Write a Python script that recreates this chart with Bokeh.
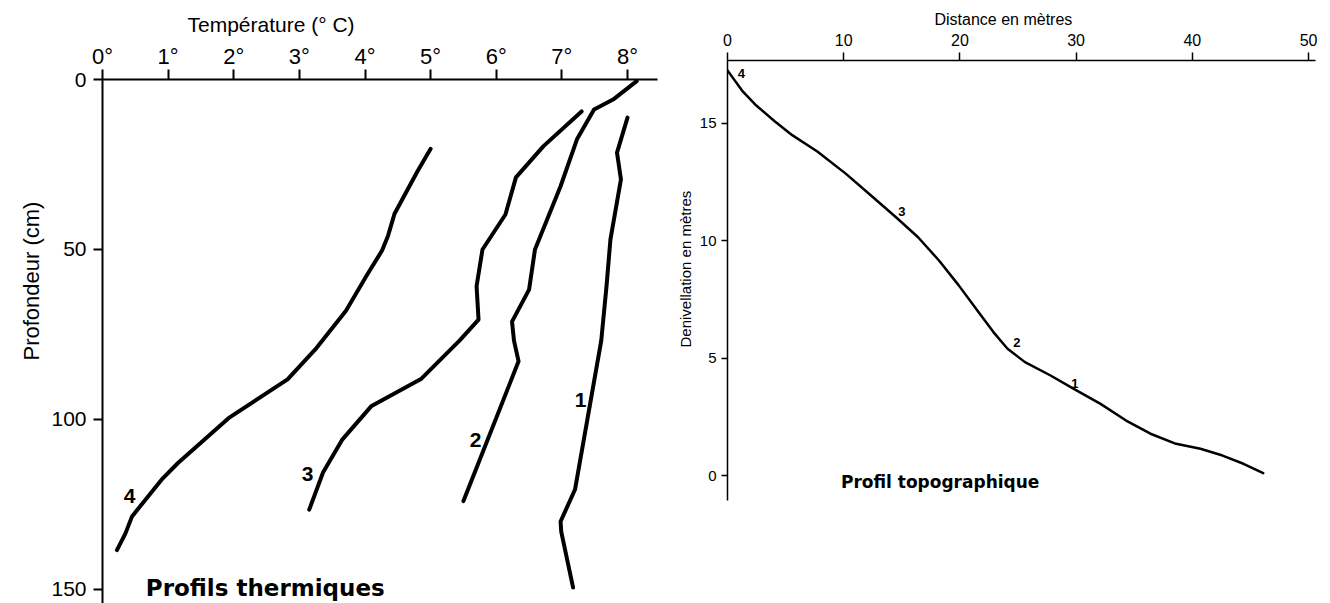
import numpy as np
from bokeh.plotting import figure
from bokeh.models import Range1d, FixedTicker, Label, Title
from bokeh.layouts import row, column
from bokeh.embed import file_html
from bokeh.resources import INLINE
from bokeh.core.properties import value

# ---------------- data: thermal profiles ----------------
temp_ticks = [0, 1, 2, 3, 4, 5, 6, 7, 8]
temp_tick_labels = ["0°", "1°", "2°", "3°", "4°", "5°", "6°", "7°", "8°"]
depth_ticks = [0, 50, 100, 150]

profile_names = ["1", "2", "3", "4"]

p1_temp = [8.0, 7.84, 7.9, 7.74, 7.68, 7.6, 7.2, 6.98, 6.99, 7.17]
p1_depth = [11.2, 21.5, 29.4, 47.0, 60.8, 76.8, 120.6, 130.0, 133.0, 149.4]

p2_temp = [8.14, 7.78, 7.49, 7.23, 6.98, 6.59, 6.5, 6.24, 6.27, 6.34, 5.5]
p2_depth = [0.5, 5.9, 8.8, 17.6, 31.4, 50.0, 61.8, 71.2, 76.8, 82.9, 124.0]

p3_temp = [7.3, 6.72, 6.3, 6.14, 5.79, 5.7, 5.73, 5.44, 4.86, 4.1, 3.65, 3.36, 3.15]
p3_depth = [9.4, 19.6, 28.8, 39.7, 50.0, 60.8, 70.6, 76.8, 88.0, 96.0, 106.0, 115.6, 126.5]

p4_temp = [5.0, 4.8, 4.45, 4.35, 4.26, 4.03, 3.71, 3.26, 2.82, 1.92, 1.15, 0.9, 0.45, 0.35, 0.22]
p4_depth = [20.4, 27.0, 39.5, 46.0, 50.3, 57.5, 68.0, 79.0, 88.2, 99.6, 112.8, 117.7, 128.5, 133.5, 138.4]

# depth at which each profile number is written
profile_label_depth = [94.4, 106.0, 115.9, 122.4]

# ---------------- data: topographic profile ----------------
dist_ticks = [0, 10, 20, 30, 40, 50]
height_ticks = [0, 5, 10, 15]

topo_dist = [0.0, 1.25, 2.48, 4.03, 5.57, 7.73, 10.2, 12.35, 14.5, 16.4, 18.2, 19.9,
             21.5, 22.9, 24.1, 25.6, 27.8, 29.8, 32.1, 34.3, 36.4, 38.6, 40.7, 42.6, 44.4, 46.1]
topo_height = [17.26, 16.4, 15.76, 15.1, 14.5, 13.8, 12.85, 11.93, 11.0, 10.15, 9.16, 8.1,
               7.03, 6.1, 5.4, 4.83, 4.26, 3.69, 3.05, 2.34, 1.78, 1.35, 1.14, 0.85, 0.5, 0.1]

station_names = ["4", "3", "2", "1"]
station_dist = [1.19, 15.0, 24.9, 29.9]

FONT = "Liberation Sans"
BOLD_FONT = "DejaVu Sans"

# ---------------- left: thermal profiles ----------------
p1 = figure(width=662, height=603,
            x_range=Range1d(0, 8.457), y_range=Range1d(154.12, 0),
            x_axis_location="above", y_axis_location="left",
            output_backend="svg", toolbar_location=None,
            min_border_left=102, min_border_right=5, min_border_top=79, min_border_bottom=0)
p1.outline_line_color = None
p1.grid.visible = False
p1.background_fill_color = "white"
p1.border_fill_color = "white"

xa = p1.xaxis[0]
xa.ticker = FixedTicker(ticks=temp_ticks)
xa.major_label_overrides = {t: l for t, l in zip(temp_ticks, temp_tick_labels)}
ya = p1.yaxis[0]
ya.ticker = FixedTicker(ticks=depth_ticks)
for ax in (xa, ya):
    ax.axis_line_width = 2
    ax.axis_line_color = "black"
    ax.major_tick_line_width = 2
    ax.major_tick_line_color = "black"
    ax.major_tick_in = 0
    ax.major_tick_out = 10
    ax.minor_tick_line_color = None
    ax.major_label_text_font = FONT
    ax.major_label_text_font_size = "22px"
    ax.major_label_text_color = "black"
xa.major_label_standoff = 1
ya.major_tick_out = 9
ya.major_label_standoff = 7
ya.major_label_text_font_size = "21px"

p1.add_layout(Title(text="Température (° C)", align="left", offset=85, standoff=10,
                    text_font=FONT, text_font_size="21px", text_font_style="normal",
                    text_color="black"), "above")
p1.add_layout(Title(text="Profondeur (cm)", align="left", offset=243, standoff=10,
                    text_font=FONT, text_font_size="22px", text_font_style="normal",
                    text_color="black"), "left")

curves_t = [p1_temp, p2_temp, p3_temp, p4_temp]
curves_d = [p1_depth, p2_depth, p3_depth, p4_depth]
for t, d in zip(curves_t, curves_d):
    p1.line(t, d, line_width=4, line_color="black", line_cap="round", line_join="round")

lab_x = [float(np.interp(dd, d, t)) for dd, d, t in zip(profile_label_depth, curves_d, curves_t)]
label_dx = [-10, -12, -15, -19]
for name, lx, ly, dx in zip(profile_names, lab_x, profile_label_depth, label_dx):
    p1.text(x=[lx], y=[ly], text=[name], x_offset=dx, y_offset=0,
            text_font=value(FONT), text_font_size="21px", text_font_style="bold",
            text_align="center", text_baseline="middle", text_color="black")

p1.add_layout(Label(x=0.66, y=149.7, text="Profils thermiques", text_font=BOLD_FONT,
                    text_font_size="23px", text_font_style="bold", text_color="black",
                    text_align="left", text_baseline="middle"))

# ---------------- right: topographic profile ----------------
p2 = figure(width=663, height=600,
            x_range=Range1d(0, 50.6), y_range=Range1d(-1.065, 17.68),
            x_axis_location="above", y_axis_location="left",
            output_backend="svg", toolbar_location=None,
            min_border_left=65, min_border_right=10, min_border_top=60, min_border_bottom=100)
p2.outline_line_color = None
p2.grid.visible = False
p2.background_fill_color = "white"
p2.border_fill_color = "white"

xb = p2.xaxis[0]
xb.ticker = FixedTicker(ticks=dist_ticks)
yb = p2.yaxis[0]
yb.ticker = FixedTicker(ticks=height_ticks)
for ax in (xb, yb):
    ax.axis_line_width = 1.5
    ax.axis_line_color = "black"
    ax.major_tick_line_width = 1.5
    ax.major_tick_line_color = "black"
    ax.major_tick_in = 0
    ax.major_tick_out = 8
    ax.minor_tick_line_color = None
    ax.major_label_text_font = FONT
    ax.major_label_text_color = "black"
xb.major_label_text_font_size = "16px"
xb.major_label_standoff = 7
yb.major_label_text_font_size = "15px"
yb.major_tick_out = 6
yb.major_label_standoff = 5

p2.add_layout(Title(text="Distance en mètres", align="left", offset=207, standoff=6,
                    text_font=FONT, text_font_size="16px", text_font_style="normal",
                    text_color="black"), "above")
p2.add_layout(Title(text="Denivellation en mètres", align="left", offset=153, standoff=6,
                    text_font=FONT, text_font_size="15px", text_font_style="normal",
                    text_color="black"), "left")

p2.line(topo_dist, topo_height, line_width=2.5, line_color="black",
        line_cap="round", line_join="round")

st_h = [float(np.interp(sd, topo_dist, topo_height)) for sd in station_dist]
station_dy = [-16, -11, -13, -6]
for name, sx, sy, dy in zip(station_names, station_dist, st_h, station_dy):
    p2.text(x=[sx], y=[sy], text=[name], x_offset=0, y_offset=dy,
            text_font=value(FONT), text_font_size="13px", text_font_style="bold",
            text_align="center", text_baseline="middle", text_color="black")

p2.add_layout(Label(x=18.3, y=-0.26, text="Profil topographique", text_font=BOLD_FONT,
                    text_font_size="17px", text_font_style="bold", text_color="black",
                    text_align="center", text_baseline="middle"))

layout = row(column(p1), column(p2))
open("out.html", "w").write(file_html(layout, INLINE))
